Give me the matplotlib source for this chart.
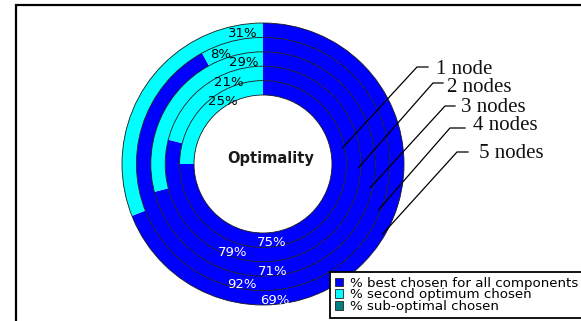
import numpy as np
import matplotlib
matplotlib.use('Agg')
import matplotlib.pyplot as plt
from matplotlib.patches import Patch, Rectangle, Circle

# share of choices per cluster size, ring 1 (inner) = 1 node ... ring 5 (outer) = 5 nodes
ring_names = ['1 node', '2 nodes', '3 nodes', '4 nodes', '5 nodes']
best = [75, 79, 71, 92, 69]
second = [25, 21, 29, 8, 31]
suboptimal = [0, 0, 0, 0, 0]
series_names = ['% best chosen for all components', '% second optimum chosen', '% sub-optimal chosen']
colors = ['#0000ff', '#00ffff', '#008080']

W, H = 581, 321
cx, cy = 263, H - 164
r_hole = 69
ring_w = 14.4

# where the value labels sit on each ring (degrees, counter-clockwise from 3 o'clock)
best_lab_deg = [-84, -109, -85, -100, -85]
second_lab_deg = [123, 113, 101, 111, 99]
# leader lines: angle of the ring end, elbow point and text anchor (pixels)
lead_deg = [11.4, -2.4, -12.6, -21.8, -30.6]
elbow = [(417, 67), (433, 83), (445, 106), (450, 128), (457, 152)]
lead_end_x = [428, 443, 455, 465, 468]
text_pos = [(436, 69), (447, 88), (461, 107), (473, 126), (479, 154)]

fig = plt.figure(figsize=(W / 100, H / 100), dpi=100)
ax = fig.add_axes([0, 0, 1, 1])

for k in range(5):
    r_out = r_hole + (k + 1) * ring_w
    ax.pie([best[k], second[k], suboptimal[k]], radius=r_out, center=(cx, cy),
           startangle=90, counterclock=False, colors=colors,
           wedgeprops=dict(width=ring_w, edgecolor='none', linewidth=0))

# thin ring separators
for k in range(6):
    ax.add_patch(Circle((cx, cy), r_hole + k * ring_w, fill=False,
                        edgecolor='#1a1a1a', linewidth=0.6))

for k in range(5):
    r_mid = r_hole + (k + 0.5) * ring_w
    a = np.radians(best_lab_deg[k])
    ax.text(cx + (r_mid + 3) * np.cos(a), cy + (r_mid + 3) * np.sin(a), f'{best[k]}%',
            color='white', fontsize=9.5, ha='center', va='center')
    a = np.radians(second_lab_deg[k])
    ax.text(cx + (r_mid - 2) * np.cos(a), cy + (r_mid - 2) * np.sin(a), f'{second[k]}%',
            color='black', fontsize=9.5, ha='center', va='center')

ax.text(271, H - 158, 'Optimality', fontsize=10.5, fontweight='bold',
        ha='center', va='center', color='#1a1a1a')

for k in range(5):
    r_end = r_hole + (k + 1) * ring_w - 2.5
    a = np.radians(lead_deg[k])
    x0, y0 = cx + r_end * np.cos(a), cy + r_end * np.sin(a)
    ex, ey = elbow[k]
    ax.plot([x0, ex, lead_end_x[k]], [y0, H - ey, H - ey], color='black', lw=0.9)
    tx, ty = text_pos[k]
    ax.text(tx, H - ty, ring_names[k], family='Liberation Serif', fontsize=15,
            ha='left', va='center', color='#111111')

ax.set_xlim(0, W)
ax.set_ylim(0, H)
ax.set_aspect('equal')
ax.axis('off')

# chart area border (runs off the right and bottom)
fig.patches.append(Rectangle((16 / W, -0.5), 2, 1.5 - 5 / H, transform=fig.transFigure,
                             fill=False, edgecolor='black', linewidth=1.6))

handles = [Patch(facecolor=c, edgecolor='#222222', linewidth=0.6) for c in colors]
leg = ax.legend(handles, series_names, loc='upper left',
                bbox_to_anchor=(330 / W, 1 - 272 / H), bbox_transform=fig.transFigure,
                frameon=True, fancybox=False, framealpha=1, edgecolor='black',
                borderaxespad=0, borderpad=0.35, handlelength=0.65, handleheight=0.65,
                handletextpad=0.5, labelspacing=-0.1, fontsize=9.6)
leg.get_frame().set_linewidth(1.3)

fig.savefig('out.png', dpi=100)
